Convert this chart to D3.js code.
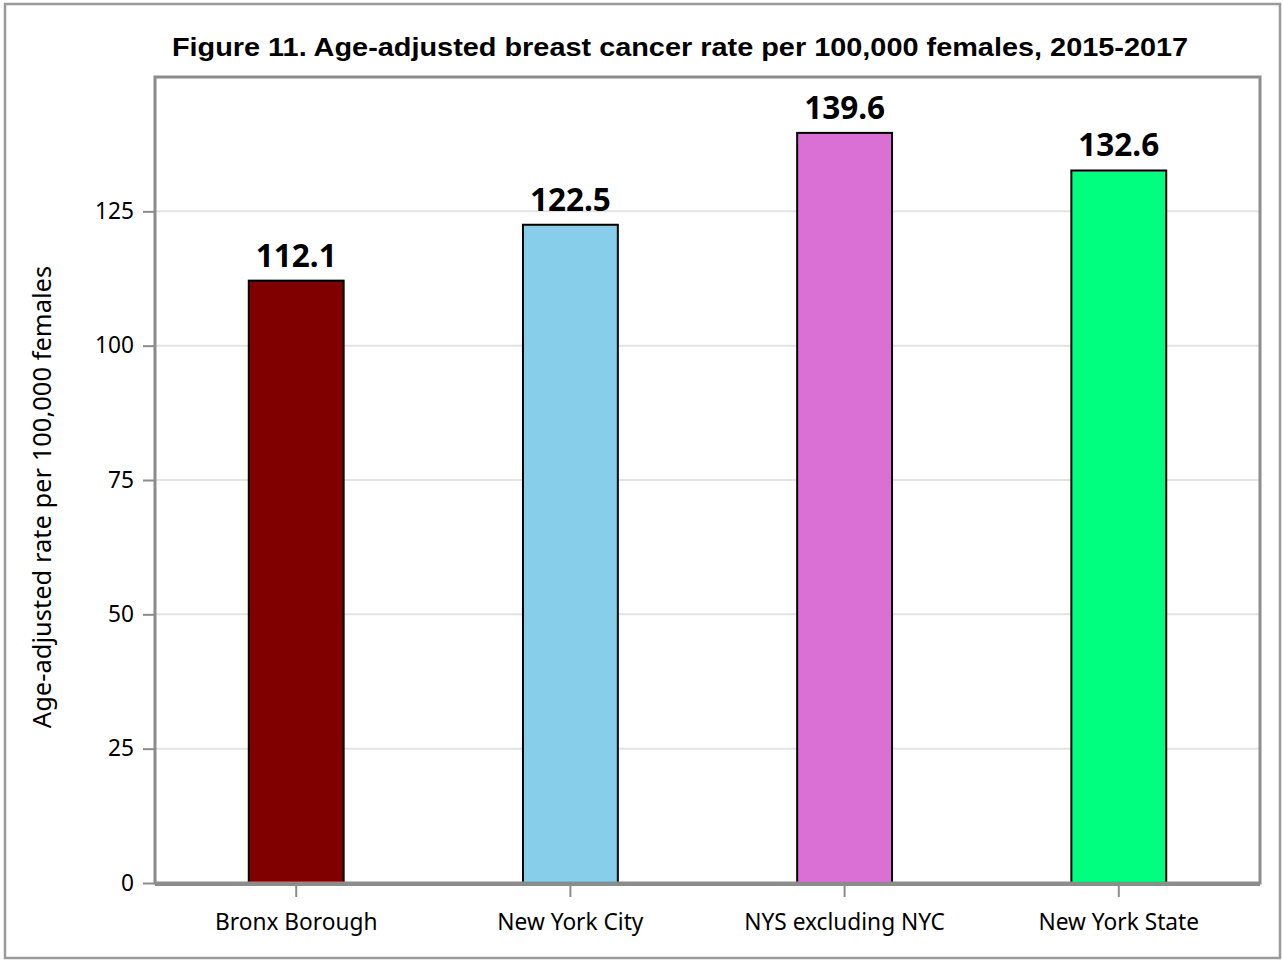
<!DOCTYPE html>
<html>
<head>
<meta charset="utf-8">
<script src="https://cdn.jsdelivr.net/npm/d3@7"></script>
<style>
  body { margin: 0; background: #fff; }
  .chart text { fill: #000; }
</style>
</head>
<body>
<svg class="chart"></svg>
<script>
var categories = ["Bronx Borough", "New York City", "NYS excluding NYC", "New York State"];
var rates = [112.1, 122.5, 139.6, 132.6];
var barColors = ["#800000", "#87ceeb", "#da70d6", "#00ff7f"];
var yTicks = [0, 25, 50, 75, 100, 125];

var W = 1283, H = 960;
var margin = {top: 77, right: 23, bottom: 77, left: 155},
    width = W - margin.left - margin.right,
    height = H - margin.top - margin.bottom;

var root = d3.select(".chart").attr("width", W).attr("height", H);

// outer border
root.append("rect")
    .attr("x", 5).attr("y", 4)
    .attr("width", W - 8).attr("height", H - 6)
    .attr("fill", "none").attr("stroke", "#9a9a9a").attr("stroke-width", 2.5);

// title is drawn a bit wide, like the original
root.append("text")
    .attr("transform", "translate(680,56) scale(1.155,1)")
    .attr("text-anchor", "middle")
    .style("font-family", "'Liberation Sans', Arial, sans-serif")
    .style("font-weight", "bold")
    .style("font-size", "25px")
    .text("Figure 11. Age-adjusted breast cancer rate per 100,000 females, 2015-2017");

var svg = root.append("g")
    .attr("transform", "translate(" + margin.left + "," + margin.top + ")");

var x = d3.scaleBand().domain(categories).range([0, width]).paddingInner(0.654).paddingOuter(0.342);
var y = d3.scaleLinear().domain([0, 150]).range([height, 0]);

// gridlines
svg.append("g").selectAll("line")
    .data(yTicks.filter(function(d) { return d > 0; }))
    .enter().append("line")
    .attr("x1", 0).attr("x2", width)
    .attr("y1", function(d) { return y(d); })
    .attr("y2", function(d) { return y(d); })
    .attr("stroke", "#e3e3e3").attr("stroke-width", 2);

// bars
svg.append("g").selectAll("rect")
    .data(rates).enter()
    .append("rect")
    .attr("x", function(d, i) { return x(categories[i]); })
    .attr("y", function(d) { return y(d); })
    .attr("width", x.bandwidth())
    .attr("height", function(d) { return height - y(d); })
    .attr("fill", function(d, i) { return barColors[i]; })
    .attr("stroke", "#000").attr("stroke-width", 2);

// value labels
svg.append("g").selectAll("text")
    .data(rates).enter()
    .append("text")
    .attr("x", function(d, i) { return x(categories[i]) + x.bandwidth() / 2; })
    .attr("y", function(d) { return y(d) - 14; })
    .attr("text-anchor", "middle")
    .style("font-family", "'Noto Sans', 'Open Sans', sans-serif")
    .style("font-weight", "bold")
    .style("font-size", "31.5px")
    .text(function(d) { return d.toFixed(1); });

// frame
svg.append("rect")
    .attr("x", 0).attr("y", 0).attr("width", width).attr("height", height)
    .attr("fill", "none").attr("stroke", "#8c8c8c").attr("stroke-width", 3);

// axes
var yAxis = svg.append("g")
    .call(d3.axisLeft(y).tickValues(yTicks).tickSize(12).tickPadding(9).tickFormat(d3.format("d")));
var xAxis = svg.append("g")
    .attr("transform", "translate(0," + height + ")")
    .call(d3.axisBottom(x).tickSize(14).tickPadding(17));

[yAxis, xAxis].forEach(function(a) {
    a.select(".domain").remove();
    a.selectAll(".tick line").attr("stroke", "#8c8c8c").attr("stroke-width", 2);
    a.selectAll(".tick text")
        .style("font-family", "'Noto Sans', 'Open Sans', sans-serif")
        .style("font-size", "22.7px")
        .attr("fill", "#000");
});
xAxis.selectAll(".tick line").attr("y1", 2);

// thicker baseline
svg.append("line")
    .attr("x1", 0).attr("x2", width)
    .attr("y1", height + 1).attr("y2", height + 1)
    .attr("stroke", "#8c8c8c").attr("stroke-width", 4);

svg.append("text")
    .attr("transform", "translate(-104," + (height / 2 + 17) + ") rotate(-90)")
    .attr("text-anchor", "middle")
    .style("font-family", "'Noto Sans', 'Open Sans', sans-serif")
    .style("font-size", "25.5px")
    .text("Age-adjusted rate per 100,000 females");
</script>
</body>
</html>
